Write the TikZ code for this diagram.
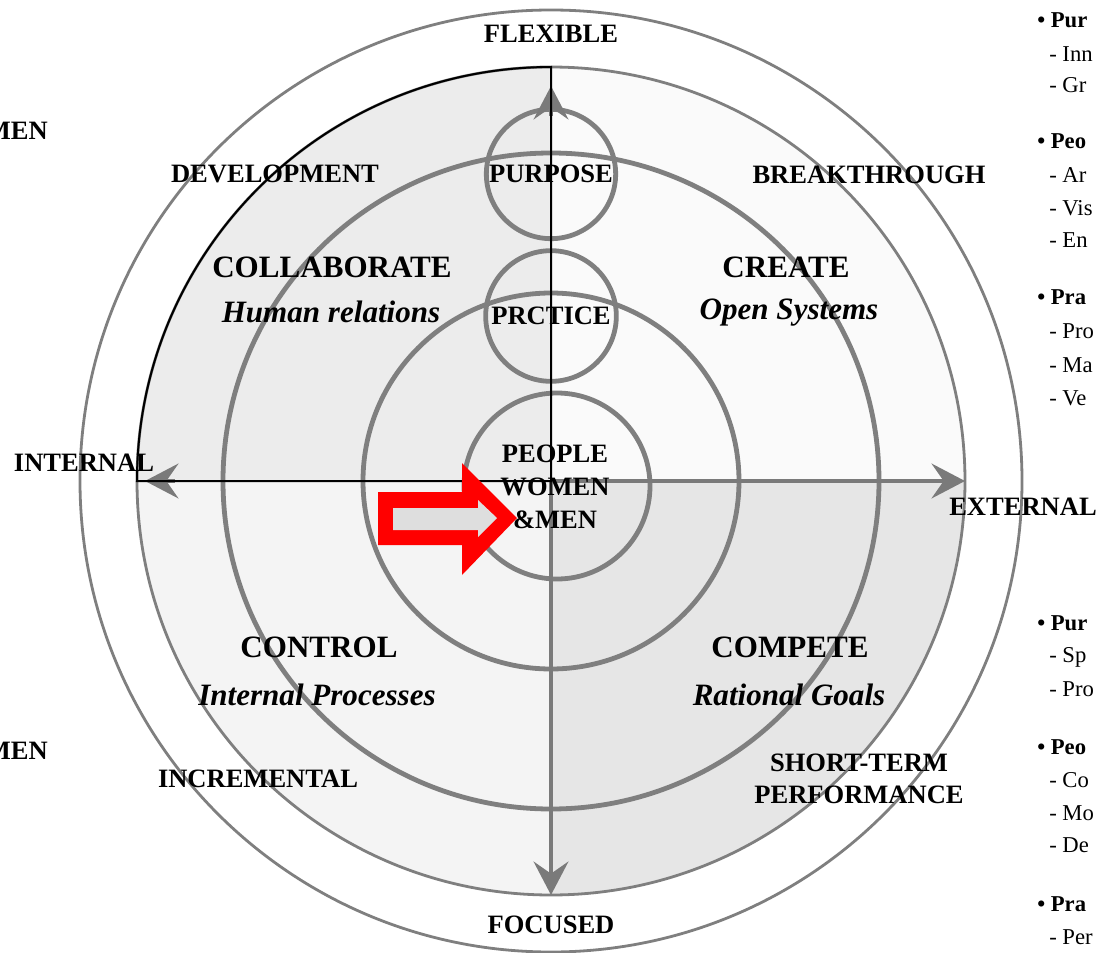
\documentclass[tikz,border=0pt]{standalone}
\usepackage{fontspec}
\setmainfont{Liberation Serif}
\usetikzlibrary{arrows.meta}
\definecolor{ringgray}{HTML}{7F7F7F}
\definecolor{axisgray}{HTML}{7A7A7A}
\definecolor{fillTL}{HTML}{ECECEC}
\definecolor{fillTR}{HTML}{FAFAFA}
\definecolor{fillBL}{HTML}{F4F4F4}
\definecolor{fillBR}{HTML}{E6E6E6}
\definecolor{arrowfill}{HTML}{DEDEDE}
\newcommand\lblfont{\fontsize{19.9pt}{24.5pt}\selectfont\bfseries}
\newcommand\ttlfont{\fontsize{23.3pt}{27pt}\selectfont\bfseries}
\newcommand\sidefont{\fontsize{17pt}{20pt}\selectfont}
\begin{document}
\begin{tikzpicture}[x=0.75pt,y=-0.75pt,
  ring/.style={draw=ringgray, line width=3.6pt},
  thinring/.style={draw=ringgray, line width=2.1pt},
  lbl/.style={font=\lblfont, inner sep=0pt, align=center},
  ttl/.style={font=\ttlfont, inner sep=0pt},
  sub/.style={font=\ttlfont\itshape, inner sep=0pt},
  side/.style={font=\sidefont, anchor=west, inner sep=0pt},
  tipgray/.style={draw=axisgray, line width=3.6pt},
  headtip/.style={-{Stealth[length=25pt,width=26pt,inset=9pt]}}
]
\useasboundingbox (0,0) rectangle (1097,953);
\begin{scope}
\clip (0,0) rectangle (1097,953);
% quadrant fills
\coordinate (C) at (551,481);
\begin{scope}\clip (551,481) rectangle (0,0);\fill[fillTL] (C) circle[radius=310.5pt];\end{scope}
\begin{scope}\clip (551,481) rectangle (1097,0);\fill[fillTR] (C) circle[radius=310.5pt];\end{scope}
\begin{scope}\clip (551,481) rectangle (0,953);\fill[fillBL] (C) circle[radius=310.5pt];\end{scope}
\begin{scope}\clip (551,481) rectangle (1097,953);\fill[fillBR] (C) circle[radius=310.5pt];\end{scope}
% circles
\draw[thinring] (C) circle[radius=353.25pt];
\draw[thinring] (C) circle[radius=310.5pt];
\draw[ring] (C) circle[radius=246pt];
\draw[ring] (C) circle[radius=141pt];
\coordinate (Cin) at (557,486);
\draw[ring] (Cin) circle[radius=69.75pt];
\coordinate (Cpur) at (551,174);
\coordinate (Cpra) at (551,316);
\draw[ring] (Cpur) circle[radius=48.5pt];
\draw[ring] (Cpra) circle[radius=49pt];
% axes
\coordinate (R) at (965,481);
\coordinate (B) at (551,895);
\coordinate (T) at (551,86);
\coordinate (L) at (145,481);
\coordinate (Tb) at (551,116);
\coordinate (Lb) at (175,481);
\draw[tipgray, headtip] (C) -- (R);
\draw[tipgray, headtip] (C) -- (B);
\draw[tipgray, headtip] (Tb) -- (T);
\draw[tipgray, headtip] (Lb) -- (L);
% black outline of top-left quadrant
\draw[black, line width=1.5pt] (C) -- (137,481) arc[start angle=180, end angle=90, radius=310.5pt] -- cycle;
% labels
\node[lbl] (flex) at (551,34) {FLEXIBLE};
\node[lbl] (foc) at (551,925) {FOCUSED};
\node[lbl] (int) at (84,463) {INTERNAL};
\node[lbl] (ext) at (1023,507) {EXTERNAL};
\node[lbl] (dev) at (275,174) {DEVELOPMENT};
\node[lbl] (brk) at (869,175) {BREAKTHROUGH};
\node[lbl] (inc) at (258,779) {INCREMENTAL};
\node[lbl] (stp) at (859,779) {SHORT-TERM\\PERFORMANCE};
\node[lbl] (pur) at (551,174) {PURPOSE};
\node[lbl] (prc) at (551,316) {PRCTICE};
\node[lbl] (ppl) at (555,487) {PEOPLE\\WOMEN\\\&MEN};
\node[ttl] (col) at (332,267) {COLLABORATE};
\node[sub] (hr) at (331,312) {Human relations};
\node[ttl] (cre) at (786,267) {CREATE};
\node[sub] (os) at (789,313) {Open Systems};
\node[ttl] (con) at (319,647) {CONTROL};
\node[sub] (ip) at (317,695) {Internal Processes};
\node[ttl] (com) at (790,647) {COMPETE};
\node[sub] (rg) at (789,695) {Rational Goals};
\node[lbl, anchor=east] (men1) at (48,131) {MEN};
\node[lbl, anchor=east] (men2) at (48,751) {MEN};
% side lists (cropped)
\node[side] (s1) at (1037,20) {\bfseries • Pur};
\node[side] (s2) at (1049,54) {- Inn};
\node[side] (s3) at (1049,85) {- Gr};
\node[side] (s4) at (1037,141) {\bfseries • Peo};
\node[side] (s5) at (1049,175) {- Ar};
\node[side] (s6) at (1049,208) {- Vis};
\node[side] (s7) at (1049,240) {- En};
\node[side] (s8) at (1037,297) {\bfseries • Pra};
\node[side] (s9) at (1049,331) {- Pro};
\node[side] (s10) at (1049,365) {- Ma};
\node[side] (s11) at (1049,398) {- Ve};
\node[side] (b1) at (1037,623) {\bfseries • Pur};
\node[side] (b2) at (1049,657) {- Sp};
\node[side] (b3) at (1049,689) {- Pro};
\node[side] (b4) at (1037,747) {\bfseries • Peo};
\node[side] (b5) at (1049,780) {- Co};
\node[side] (b6) at (1049,813) {- Mo};
\node[side] (b7) at (1049,845) {- De};
\node[side] (b8) at (1037,904) {\bfseries • Pra};
\node[side] (b9) at (1049,937) {- Per};
% red block arrow
\fill[red] (378,492) -- (462,492) -- (462,463) -- (517,518) -- (462,575) -- (462,545) -- (378,545) -- cycle;
\fill[arrowfill] (393,508) -- (478,508) -- (478,500) -- (497,518) -- (478,537) -- (478,530) -- (393,530) -- cycle;
\end{scope}
\end{tikzpicture}
\end{document}
